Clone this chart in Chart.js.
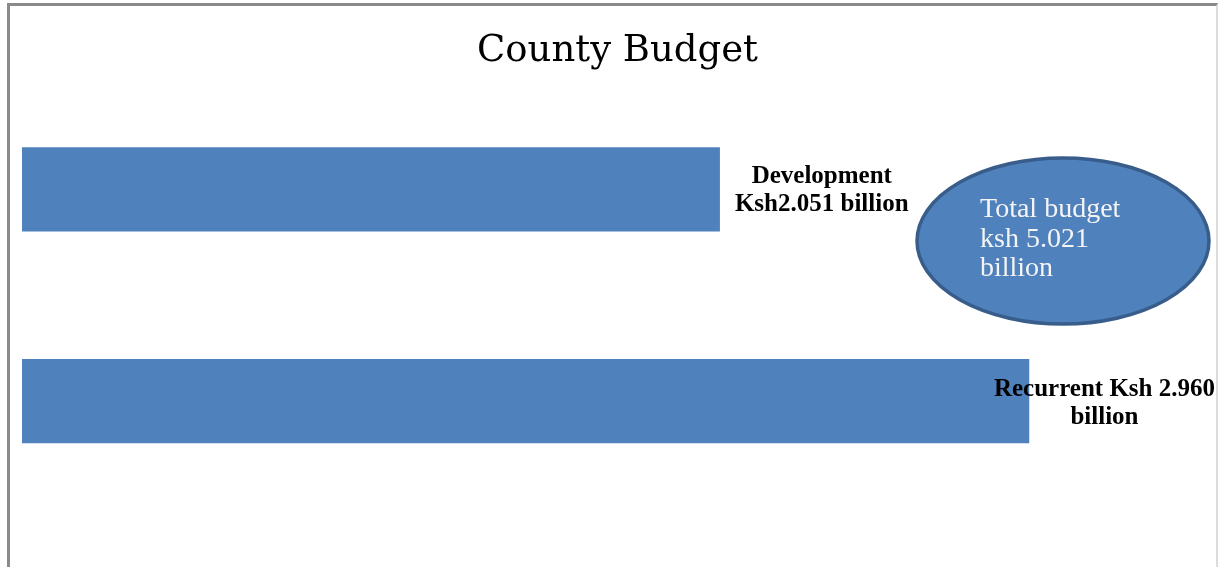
<!DOCTYPE html>
<html>
<head>
<meta charset="utf-8">
<script src="https://cdn.jsdelivr.net/npm/chart.js@4/dist/chart.umd.min.js"></script>
<style>
  html, body { margin: 0; padding: 0; background: #fff; }
  #wrap { position: relative; width: 1222px; height: 567px; overflow: hidden; }
  #frame { position: absolute; left: 7px; top: 3px; width: 1211px; height: 600px;
           border-left: 3px solid #8a8a8a; border-top: 3px solid #8a8a8a; border-right: 2px solid #dcdcdc; box-sizing: border-box; }
  canvas { position: absolute; left: 0; top: 0; }
</style>
</head>
<body>
<div id="wrap">
  <div id="frame"></div>
  <canvas id="c" width="1222" height="567"></canvas>
</div>
<script>
// Budget split, in billions of Kenya shillings
const categories = ['Development', 'Recurrent'];
const amounts = [2.051, 2.960];
const barLabels = [
  ['Development', 'Ksh2.051 billion'],
  ['Recurrent Ksh 2.960', 'billion']
];
const totalLabel = ['Total budget', 'ksh 5.021', 'billion'];

const BLUE = '#4F81BD';

// Value captions next to each bar end, kept inside the plot area
const barCaptions = {
  id: 'barCaptions',
  afterDatasetsDraw(chart) {
    const ctx = chart.ctx;
    const meta = chart.getDatasetMeta(0);
    const right = chart.chartArea.right;
    ctx.save();
    ctx.fillStyle = '#000';
    ctx.textAlign = 'center';
    ctx.textBaseline = 'middle';
    meta.data.forEach((bar, i) => {
      const lines = barLabels[i];
      const size = i === 0 ? 25 : 25;
      ctx.font = 'bold ' + size + 'px "Liberation Serif", serif';
      const w = Math.max(...lines.map(l => ctx.measureText(l).width));
      const left = Math.min(bar.x + 15, right + 2 - w);
      const cx = left + w / 2;
      const lh = size * 1.12;
      const y0 = bar.y - lh / 2 + (i === 0 ? 1 : 2);
      lines.forEach((l, j) => ctx.fillText(l, cx, y0 + j * lh));
    });
    ctx.restore();
  }
};

// Oval call-out with the overall total
const totalOval = {
  id: 'totalOval',
  afterDraw(chart) {
    const ctx = chart.ctx;
    const cx = 1063, cy = 241, rx = 146, ry = 83;
    ctx.save();
    ctx.beginPath();
    ctx.ellipse(cx, cy, rx, ry, 0, 0, Math.PI * 2);
    ctx.fillStyle = BLUE;
    ctx.fill();
    ctx.lineWidth = 3.5;
    ctx.strokeStyle = '#385D8A';
    ctx.stroke();
    ctx.fillStyle = '#F4F4F4';
    ctx.font = '28px "Liberation Serif", serif';
    ctx.textAlign = 'left';
    ctx.textBaseline = 'alphabetic';
    totalLabel.forEach((l, j) => ctx.fillText(l, 980, 217 + j * 29.5));
    ctx.restore();
  }
};

new Chart(document.getElementById('c'), {
  type: 'bar',
  data: {
    labels: categories,
    datasets: [{
      data: amounts,
      backgroundColor: BLUE,
      borderWidth: 0,
      barPercentage: 0.398,
      categoryPercentage: 1
    }]
  },
  options: {
    indexAxis: 'y',
    responsive: false,
    animation: false,
    events: [],
    layout: { padding: { left: 22, right: 9, top: 0, bottom: 60 } },
    scales: {
      x: { display: false, min: 0, max: 3.5 },
      y: { display: false }
    },
    plugins: {
      legend: { display: false },
      tooltip: { enabled: false },
      title: {
        display: true,
        text: 'County Budget',
        color: '#000',
        font: { family: '"DejaVu Serif", serif', size: 37, weight: 'normal', lineHeight: 1.2 },
        padding: { top: 29, bottom: 10 }
      }
    }
  },
  plugins: [barCaptions, totalOval]
});
</script>
</body>
</html>
